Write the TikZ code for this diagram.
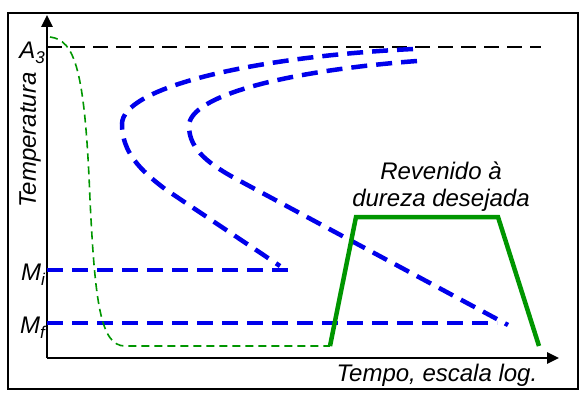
\documentclass[tikz,border=0pt]{standalone}
\usepackage{fontspec}
\setmainfont{Liberation Sans}
\usetikzlibrary{arrows.meta}

\definecolor{curveblue}{RGB}{0,0,235}
\definecolor{tempgreen}{RGB}{0,150,0}
\newcommand{\lowsub}[1]{\raisebox{-0.4ex}{\fontsize{17}{17}\selectfont #1}}

\begin{document}
\begin{tikzpicture}[x=1pt,y=-1pt,>={Triangle[length=12pt,width=11pt]},
		every node/.style={font=\fontsize{24}{27}\selectfont\itshape, inner sep=0pt},
		frame/.style={draw,line width=2.5pt},
		axis/.style={->,line width=2.5pt},
		levelline/.style={line width=2pt,dash pattern=on 15pt off 8pt},
		tttcurve/.style={curveblue,line width=4.5pt,dash pattern=on 16pt off 9pt},
		quench/.style={tempgreen,line width=1.6pt,dash pattern=on 8pt off 5pt},
		temper/.style={tempgreen,line width=4.5pt,line join=miter}]

		\useasboundingbox (0,0) rectangle (580,404);
		\draw[frame] (8,13) rectangle (578,389);

		% axes
		\coordinate (origin) at (47,358);
		\coordinate (ytip) at (47,15);
		\coordinate (xtip) at (559,358);
		\draw[axis] (origin) -- (ytip);
		\draw[axis] (origin) -- (xtip);

		% temperature levels
		\coordinate (A3left) at (47,47);
		\coordinate (A3right) at (541,47);
		\coordinate (Mileft) at (47,270);
		\coordinate (Miright) at (291,270);
		\coordinate (Mfleft) at (47,323);
		\coordinate (Mfright) at (497,323);
		\draw[levelline] (A3left) -- (A3right);
		\draw[tttcurve] (Mileft) -- (Miright);
		\draw[tttcurve] (Mfleft) -- (Mfright);

		% start and end of transformation
		\draw[tttcurve] (413,49) .. controls (250,57) and (122,88) .. (122,124)
			.. controls (122,152) and (140,170) .. (165,189) -- (280,266);
		\draw[tttcurve] (417,61) .. controls (285,71) and (189,96) .. (189,126)
			.. controls (189,150) and (210,165) .. (240,181) -- (508,325);

		% quench and tempering
		\draw[quench] (50,37) .. controls (75,40) and (85,70) .. (90,200)
			.. controls (95,300) and (100,346) .. (125,346) -- (330,346);
		\draw[temper] (330,346) -- (356,217) -- (498,217) -- (539,346);

		\node (A3) at (45,53) [anchor=east] {A\lowsub{3}};
		\node (Mi) at (45,275) [anchor=east] {M\lowsub{i}};
		\node (Mf) at (45,328) [anchor=east] {M\lowsub{f}};
		\node (Temp) at (30,140) [rotate=90] {Temperatura};
		\node (Time) at (437,375) {Tempo, escala log.};
		\node (Revenido) at (441,187) [align=center] {Revenido à\\dureza desejada};
	\end{tikzpicture}
\end{document}
